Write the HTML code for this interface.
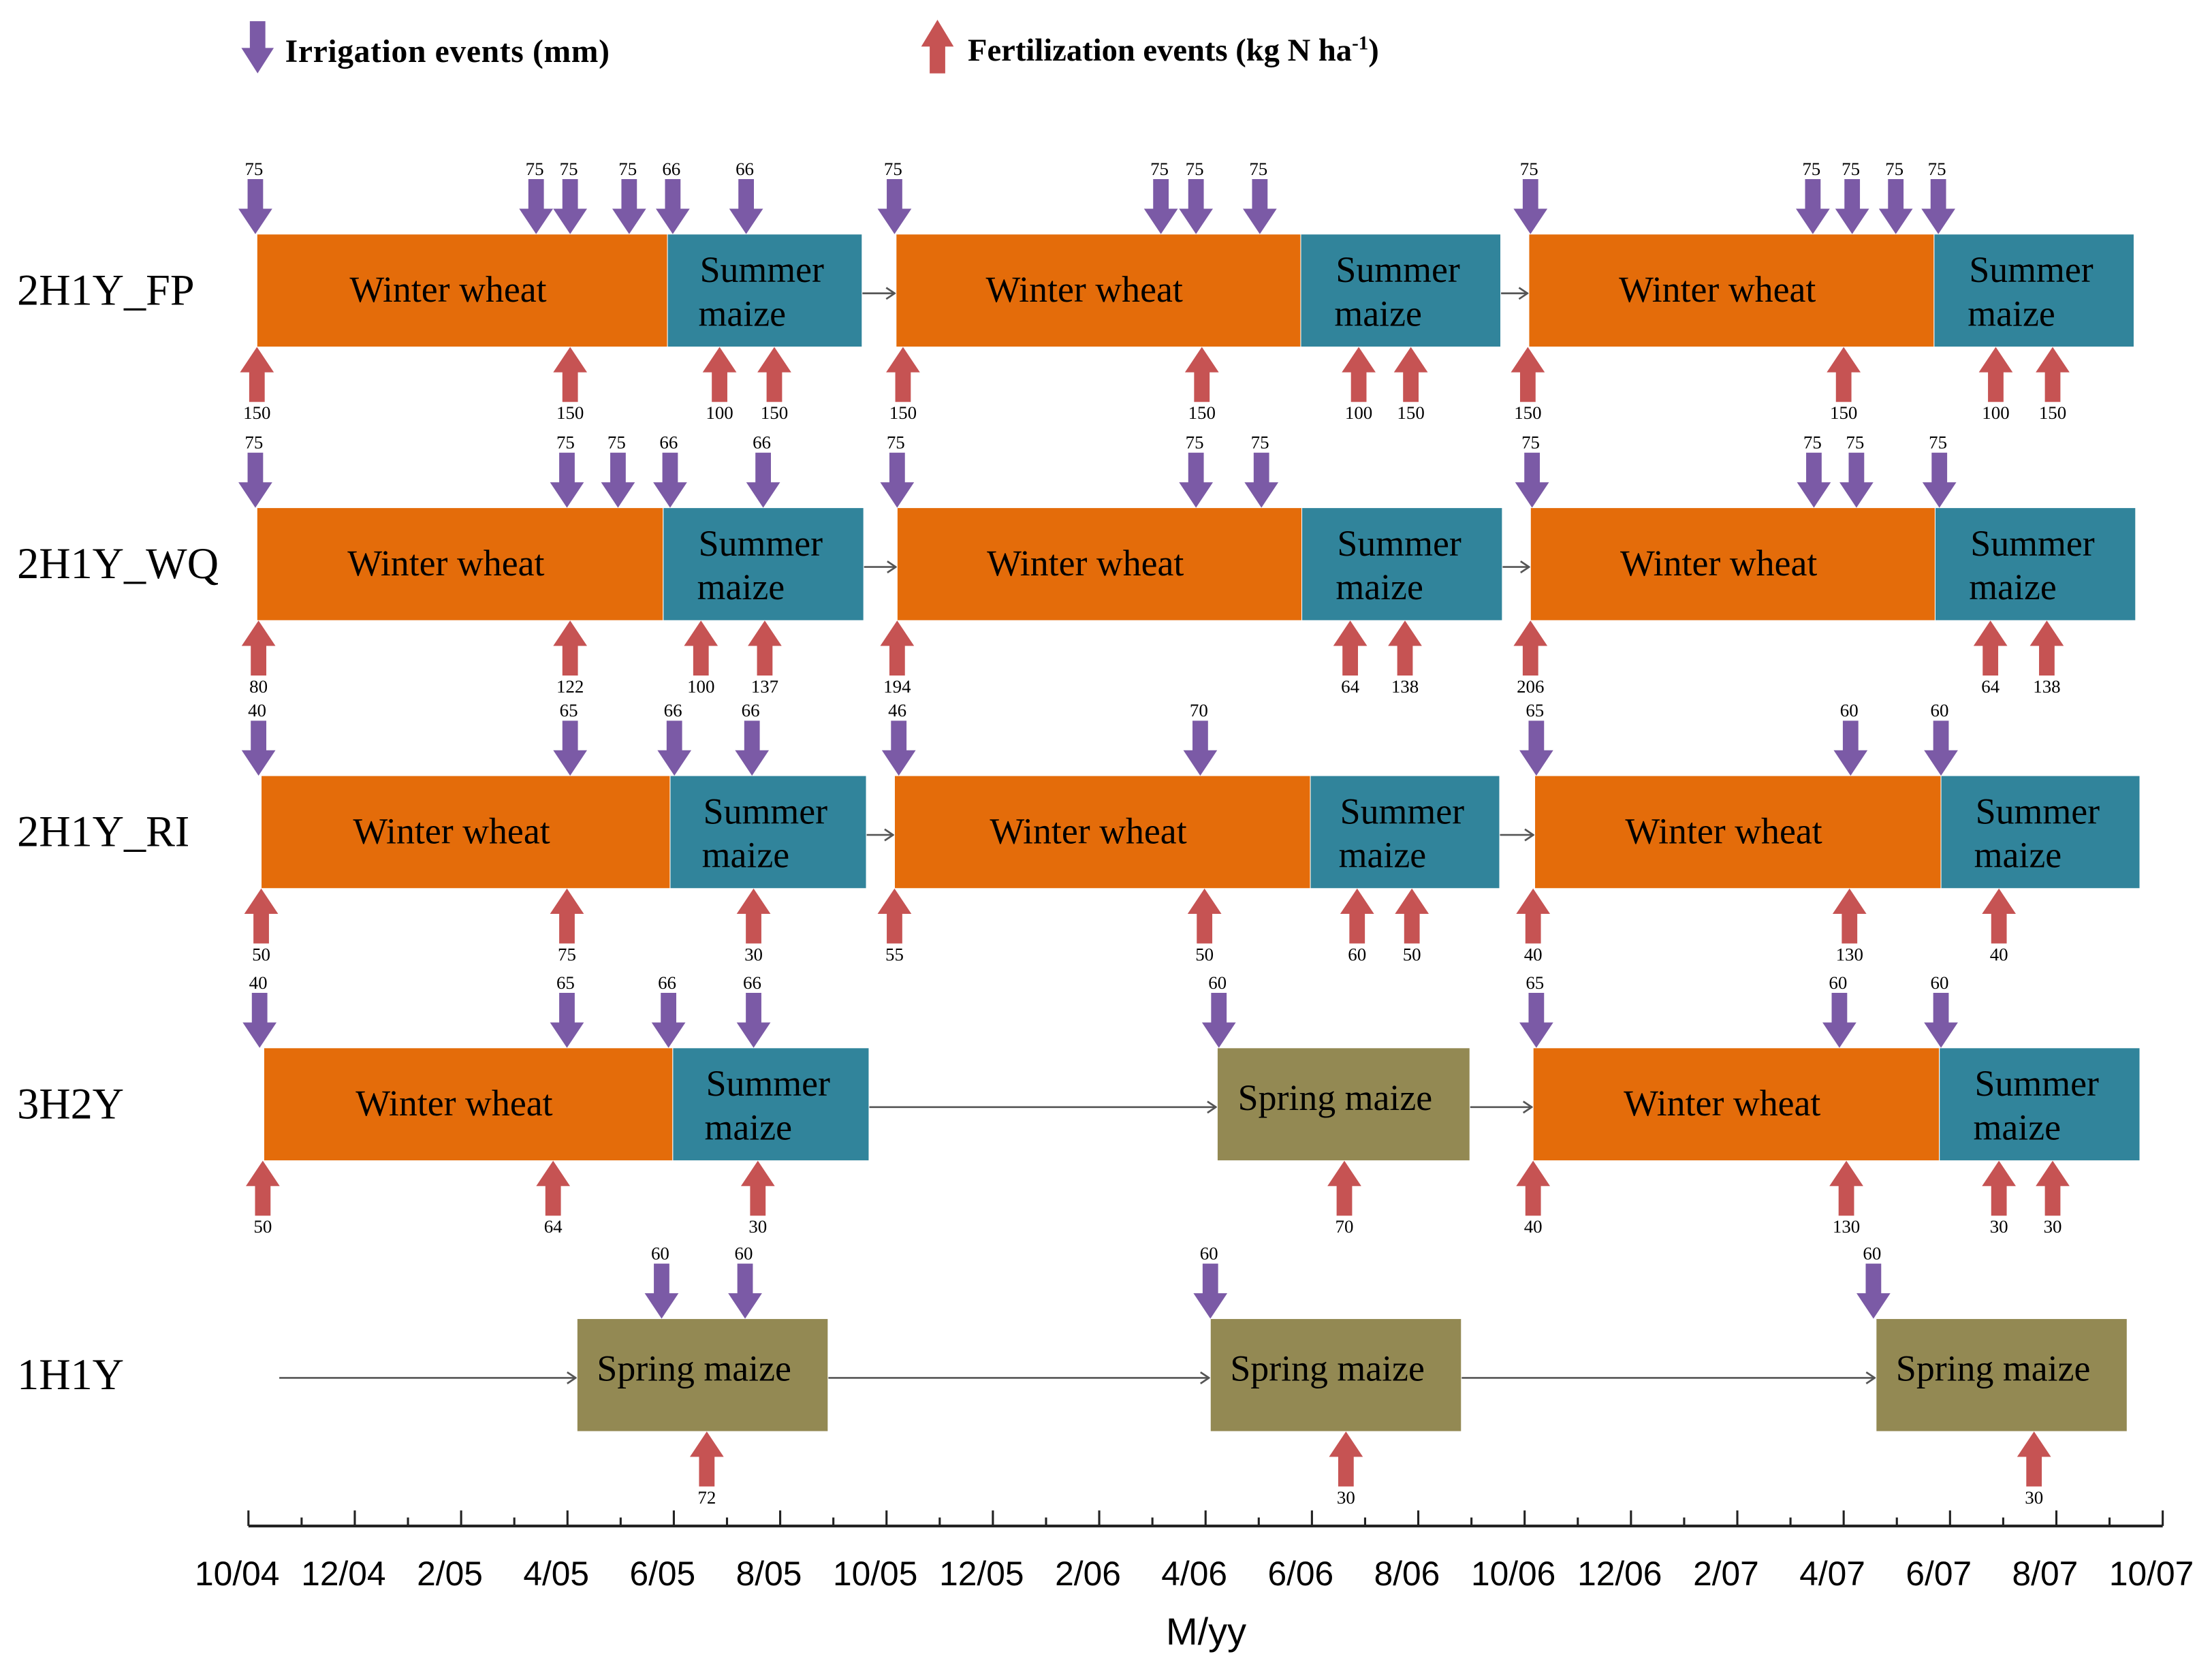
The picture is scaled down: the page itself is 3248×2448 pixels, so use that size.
<!DOCTYPE html>
<html><head><meta charset="utf-8"><style>
html,body{margin:0;padding:0;background:#fff;}
svg{display:block;}
</style></head><body>
<svg id="chart" width="3248" height="2448" viewBox="0 0 1568 1182" xmlns="http://www.w3.org/2000/svg">
<rect width="1568" height="1182" fill="#fff"/>
<g id="legend">
  <g>
    <polygon points="177,15 188,15 188,34 194,34 182.5,52 171,34 177,34" fill="#7B5AA6"/>
    <text x="202" y="44" font-family="Liberation Serif, serif" font-weight="bold" font-size="23" textLength="230">Irrigation events (mm)</text>
  </g>
  <g>
    <polygon points="659,52 670,52 670,33 676,33 664.5,14 653,33 659,33" fill="#C65353"/>
    <text x="686" y="43" font-family="Liberation Serif, serif" font-weight="bold" font-size="22.5">Fertilization events (kg N ha<tspan font-size="14" dy="-8">-1</tspan><tspan dy="8">)</tspan></text>
  </g>
</g>
<g id="rows"></g>
<g id="axis"></g>
</svg>
<script>
// Month offsets from Oct 2004 (0 = 10/04)
const tickLabels = ["10/04","12/04","2/05","4/05","6/05","8/05","10/05","12/05","2/06","4/06","6/06","8/06","10/06","12/06","2/07","4/07","6/07","8/07","10/07"];
const rowNames = ["2H1Y_FP","2H1Y_WQ","2H1Y_RI","3H2Y","1H1Y"];
const rowCenters = [206,400,590,783,975];
// crops: [type, start month, end month]
const cropsFP = [["ww",0.16,7.88],["sm",7.88,11.54],["ww",12.18,19.79],["sm",19.79,23.55],["ww",24.08,31.70],["sm",31.70,35.46]];
const cropsWQ = [["ww",0.16,7.80],["sm",7.80,11.57],["ww",12.20,19.81],["sm",19.81,23.58],["ww",24.11,31.72],["sm",31.72,35.49]];
const cropsRI = [["ww",0.24,7.93],["sm",7.93,11.62],["ww",12.15,19.97],["sm",19.97,23.53],["ww",24.19,31.83],["sm",31.83,35.57]];
const crops3H = [["ww",0.29,7.98],["sm",7.98,11.67],["sp",18.22,22.97],["ww",24.16,31.80],["sm",31.80,35.57]];
const crops1H = [["sp",6.18,10.90],["sp",18.09,22.81],["sp",30.61,35.33]];
// irrigation [month, mm]
const irrFP = [[0.13,75],[5.41,75],[6.05,75],[7.16,75],[7.98,66],[9.36,66],[12.15,75],[17.16,75],[17.82,75],[19.02,75],[24.11,75],[29.42,75],[30.16,75],[30.98,75],[31.78,75]];
const irrWQ = [[0.13,75],[5.99,75],[6.95,75],[7.93,66],[9.68,66],[12.20,75],[17.82,75],[19.05,75],[24.14,75],[29.44,75],[30.24,75],[31.80,75]];
const irrRI = [[0.19,40],[6.05,65],[8.01,66],[9.47,66],[12.23,46],[17.90,70],[24.22,65],[30.13,60],[31.83,60]];
const irr3H = [[0.21,40],[5.99,65],[7.90,66],[9.50,66],[18.25,60],[24.22,65],[29.92,60],[31.83,60]];
const irr1H = [[7.77,60],[9.34,60],[18.09,60],[30.56,60]];
// fertilization [month, kg N/ha]
const fertFP = [[0.16,150],[6.05,150],[8.86,100],[9.89,150],[12.31,150],[17.93,150],[20.88,100],[21.86,150],[24.06,150],[30.0,150],[32.86,100],[33.93,150]];
const fertWQ = [[0.19,80],[6.05,122],[8.51,100],[9.71,137],[12.20,194],[20.72,64],[21.75,138],[24.11,206],[32.76,64],[33.82,138]];
const fertRI = [[0.24,50],[5.99,75],[9.50,30],[12.15,55],[17.98,50],[20.85,60],[21.88,50],[24.16,40],[30.11,130],[32.92,40]];
const fert3H = [[0.27,50],[5.73,64],[9.58,30],[20.61,70],[24.16,40],[30.05,130],[32.92,30],[33.93,30]];
const fert1H = [[8.62,72],[20.64,30],[33.58,30]];
const rowCrops=[cropsFP,cropsWQ,cropsRI,crops3H,crops1H];
const rowIrr=[irrFP,irrWQ,irrRI,irr3H,irr1H];
const rowFert=[fertFP,fertWQ,fertRI,fert3H,fert1H];

const NS="http://www.w3.org/2000/svg";
const X0=176, PXM=37.7;
const xs=m=>X0+m*PXM;
function mk(tag,attrs,parent,text){const e=document.createElementNS(NS,tag);for(const k in attrs)e.setAttribute(k,attrs[k]);if(text!==undefined)e.textContent=text;parent.appendChild(e);return e;}
const colors={ww:"#E46C0A",sm:"#31849B",sp:"#938953"};
const rowsG=document.getElementById("rows");
const serif="Liberation Serif, serif";
rowNames.forEach((name,i)=>{
  const cy=rowCenters[i], top=cy-40, bot=cy+40;
  const g=mk("g",{},rowsG);
  
  
  const lab=mk("text",{x:12,y:cy+10,"font-family":serif,"font-size":31},g,name);
  
  
  const crops=rowCrops[i];
  let prevEnd=(i===4)?0.58:null;
  crops.forEach(c=>{
    if(prevEnd!==null && c[1]-prevEnd>0.05){
      const x1=xs(prevEnd), x2=xs(c[1]);
      const ln=mk("line",{x1:x1,y1:cy+2,x2:x2-1,y2:cy+2,stroke:"#555","stroke-width":1.3},g);
      
      
      mk("path",{d:`M${x2-7},${cy-2} L${x2-1},${cy+2} L${x2-7},${cy+6}`,fill:"none",stroke:"#555","stroke-width":1.3},g);
    }
    prevEnd=c[2];
  });
  crops.forEach(c=>{
    const x1=xs(c[1]), x2=xs(c[2]);
    const r=mk("rect",{x:x1,y:top,width:x2-x1,height:80,fill:colors[c[0]],stroke:"#fff","stroke-width":0.5},g);
    
    
    const mx=(x1+x2)/2;
    if(c[0]==="ww"){mk("text",{x:mx-10,y:cy+8,"text-anchor":"middle","font-family":serif,"font-size":26},g,"Winter wheat");}
    else if(c[0]==="sm"){mk("text",{x:mx-2,y:cy-6,"text-anchor":"middle","font-family":serif,"font-size":26},g,"Summer");mk("text",{x:mx-16,y:cy+25,"text-anchor":"middle","font-family":serif,"font-size":26},g,"maize");}
    else {mk("text",{x:mx-6,y:cy+4,"text-anchor":"middle","font-family":serif,"font-size":26},g,"Spring maize");}
  });
  rowIrr[i].forEach(v=>{
    const x=xs(v[0]);
    const a=mk("polygon",{points:`${x-5.5},${top-39} ${x+5.5},${top-39} ${x+5.5},${top-18} ${x+12},${top-18} ${x},${top} ${x-12},${top-18} ${x-5.5},${top-18}`,fill:"#7B5AA6"},g);
    
    
    mk("text",{x:x-1,y:top-42,"text-anchor":"middle","font-family":serif,"font-size":13},g,String(v[1]));
  });
  rowFert[i].forEach(v=>{
    const x=xs(v[0]);
    const a=mk("polygon",{points:`${x-5.5},${bot+39} ${x+5.5},${bot+39} ${x+5.5},${bot+18} ${x+12},${bot+18} ${x},${bot} ${x-12},${bot+18} ${x-5.5},${bot+18}`,fill:"#C65353"},g);
    
    
    mk("text",{x:x,y:bot+51,"text-anchor":"middle","font-family":serif,"font-size":13},g,String(v[1]));
  });
});
const ax=document.getElementById("axis");
const Y=1082;
mk("line",{x1:X0,y1:Y,x2:xs(36),y2:Y,stroke:"#222","stroke-width":2},ax);
for(let m=0;m<=36;m++){
  const x=xs(m), major=m%2===0;
  mk("line",{x1:x,y1:Y,x2:x,y2:Y-(major?11:6),stroke:"#222","stroke-width":1.5},ax);
}
tickLabels.forEach((t,k)=>{
  const tl=mk("text",{x:xs(k*2)-8,y:1124,"text-anchor":"middle","font-family":"Liberation Sans, sans-serif","font-size":24},ax,t);
  
  
});
const at=mk("text",{x:855,y:1166,"text-anchor":"middle","font-family":"Liberation Sans, sans-serif","font-size":27},ax,"M/yy");


</script>
</body></html>
